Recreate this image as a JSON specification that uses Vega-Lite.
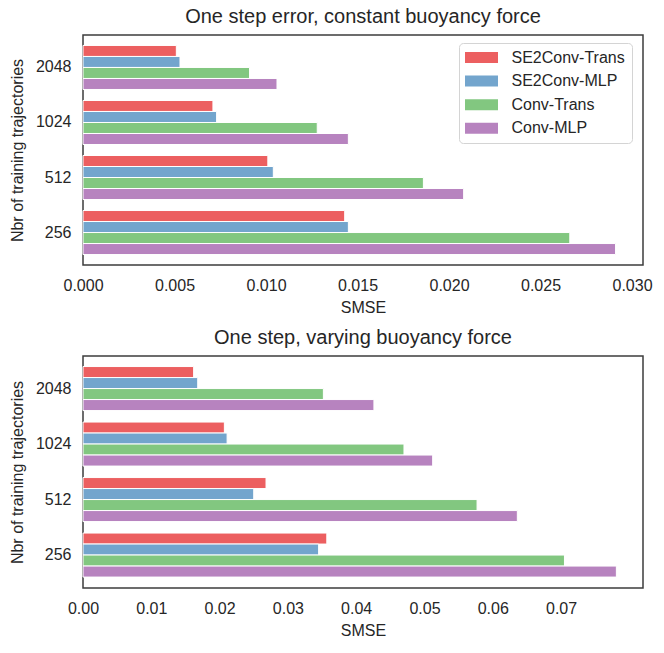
{
  "$schema": "https://vega.github.io/schema/vega-lite/v6.json",
  "padding": {"left": 8, "top": 6, "right": 20, "bottom": 5},
  "config": {
    "font": "Liberation Sans",
    "view": {"stroke": "#3d3d3d", "strokeWidth": 1.5},
    "axis": {"domain": false, "ticks": false, "grid": false, "labelFlush": false, "labelFontSize": 16, "labelColor": "#262626", "titleFontSize": 16, "titleFontWeight": "normal", "titleColor": "#262626", "labelFont": "Liberation Sans", "titleFont": "Liberation Sans"},
    "title": {"fontSize": 20, "fontWeight": "normal", "color": "#262626", "font": "Liberation Sans"},
    "legend": {"labelFontSize": 16, "labelColor": "#262626", "labelFont": "Liberation Sans"}
  },
  "datasets": {
    "top": [
      {"n": 2048, "model": "SE2Conv-Trans", "smse": 0.0051},
      {"n": 2048, "model": "SE2Conv-MLP", "smse": 0.0053},
      {"n": 2048, "model": "Conv-Trans", "smse": 0.0091},
      {"n": 2048, "model": "Conv-MLP", "smse": 0.0106},
      {"n": 1024, "model": "SE2Conv-Trans", "smse": 0.0071},
      {"n": 1024, "model": "SE2Conv-MLP", "smse": 0.0073},
      {"n": 1024, "model": "Conv-Trans", "smse": 0.0128},
      {"n": 1024, "model": "Conv-MLP", "smse": 0.0145},
      {"n": 512, "model": "SE2Conv-Trans", "smse": 0.0101},
      {"n": 512, "model": "SE2Conv-MLP", "smse": 0.0104},
      {"n": 512, "model": "Conv-Trans", "smse": 0.0186},
      {"n": 512, "model": "Conv-MLP", "smse": 0.0208},
      {"n": 256, "model": "SE2Conv-Trans", "smse": 0.0143},
      {"n": 256, "model": "SE2Conv-MLP", "smse": 0.0145},
      {"n": 256, "model": "Conv-Trans", "smse": 0.0266},
      {"n": 256, "model": "Conv-MLP", "smse": 0.0291}
    ],
    "bottom": [
      {"n": 2048, "model": "SE2Conv-Trans", "smse": 0.0162},
      {"n": 2048, "model": "SE2Conv-MLP", "smse": 0.0168},
      {"n": 2048, "model": "Conv-Trans", "smse": 0.0352},
      {"n": 2048, "model": "Conv-MLP", "smse": 0.0426},
      {"n": 1024, "model": "SE2Conv-Trans", "smse": 0.0207},
      {"n": 1024, "model": "SE2Conv-MLP", "smse": 0.0211},
      {"n": 1024, "model": "Conv-Trans", "smse": 0.0470},
      {"n": 1024, "model": "Conv-MLP", "smse": 0.0512},
      {"n": 512, "model": "SE2Conv-Trans", "smse": 0.0268},
      {"n": 512, "model": "SE2Conv-MLP", "smse": 0.0250},
      {"n": 512, "model": "Conv-Trans", "smse": 0.0577},
      {"n": 512, "model": "Conv-MLP", "smse": 0.0636},
      {"n": 256, "model": "SE2Conv-Trans", "smse": 0.0357},
      {"n": 256, "model": "SE2Conv-MLP", "smse": 0.0345},
      {"n": 256, "model": "Conv-Trans", "smse": 0.0705},
      {"n": 256, "model": "Conv-MLP", "smse": 0.0781}
    ]
  },
  "spacing": 11,
  "resolve": {"scale": {"x": "independent", "color": "independent"}, "legend": {"color": "independent"}},
  "vconcat": [
    {
      "width": 560,
      "height": 230,
      "title": {"text": "One step error, constant buoyancy force", "offset": 8},
      "data": {"name": "top"},
      "mark": {"type": "bar", "stroke": "white", "strokeWidth": 1},
      "encoding": {
        "y": {"field": "n", "type": "nominal", "sort": [2048, 1024, 512, 256], "scale": {"paddingInner": 0.2, "paddingOuter": 0.19}, "axis": {"title": "Nbr of training trajectories", "labelPadding": 12, "titlePadding": 10}},
        "yOffset": {"field": "model", "type": "nominal", "sort": ["SE2Conv-Trans", "SE2Conv-MLP", "Conv-Trans", "Conv-MLP"], "scale": {"paddingInner": 0, "paddingOuter": 0}},
        "x": {"field": "smse", "type": "quantitative", "scale": {"domain": [0, 0.0306], "nice": false, "zero": true}, "axis": {"title": "SMSE", "values": [0, 0.005, 0.01, 0.015, 0.02, 0.025, 0.03], "format": ".3f", "labelPadding": 12, "titlePadding": 6}},
        "color": {
          "field": "model", "type": "nominal",
          "sort": ["SE2Conv-Trans", "SE2Conv-MLP", "Conv-Trans", "Conv-MLP"],
          "scale": {"domain": ["SE2Conv-Trans", "SE2Conv-MLP", "Conv-Trans", "Conv-MLP"], "range": ["#EC5F60", "#73A5CD", "#82C780", "#B783BF"]},
          "legend": {"title": null, "orient": "none", "legendX": 376, "legendY": 8, "symbolType": "M-3,-1H3V1H-3Z", "symbolSize": 121, "symbolOffset": 8, "symbolStrokeWidth": 0, "symbolOpacity": 1, "strokeColor": "#d4d4d4", "fillColor": "white", "cornerRadius": 4, "padding": 6.5, "rowPadding": 7.6, "labelOffset": 22}
        }
      }
    },
    {
      "width": 560,
      "height": 232,
      "title": {"text": "One step, varying buoyancy force", "offset": 8},
      "data": {"name": "bottom"},
      "mark": {"type": "bar", "stroke": "white", "strokeWidth": 1},
      "encoding": {
        "y": {"field": "n", "type": "nominal", "sort": [2048, 1024, 512, 256], "scale": {"paddingInner": 0.2, "paddingOuter": 0.19}, "axis": {"title": "Nbr of training trajectories", "labelPadding": 12, "titlePadding": 10}},
        "yOffset": {"field": "model", "type": "nominal", "sort": ["SE2Conv-Trans", "SE2Conv-MLP", "Conv-Trans", "Conv-MLP"], "scale": {"paddingInner": 0, "paddingOuter": 0}},
        "x": {"field": "smse", "type": "quantitative", "scale": {"domain": [0, 0.082], "nice": false, "zero": true}, "axis": {"title": "SMSE", "values": [0, 0.01, 0.02, 0.03, 0.04, 0.05, 0.06, 0.07], "format": ".2f", "labelPadding": 12, "titlePadding": 6}},
        "color": {
          "field": "model", "type": "nominal",
          "sort": ["SE2Conv-Trans", "SE2Conv-MLP", "Conv-Trans", "Conv-MLP"],
          "scale": {"domain": ["SE2Conv-Trans", "SE2Conv-MLP", "Conv-Trans", "Conv-MLP"], "range": ["#EC5F60", "#73A5CD", "#82C780", "#B783BF"]},
          "legend": null
        }
      }
    }
  ]
}
